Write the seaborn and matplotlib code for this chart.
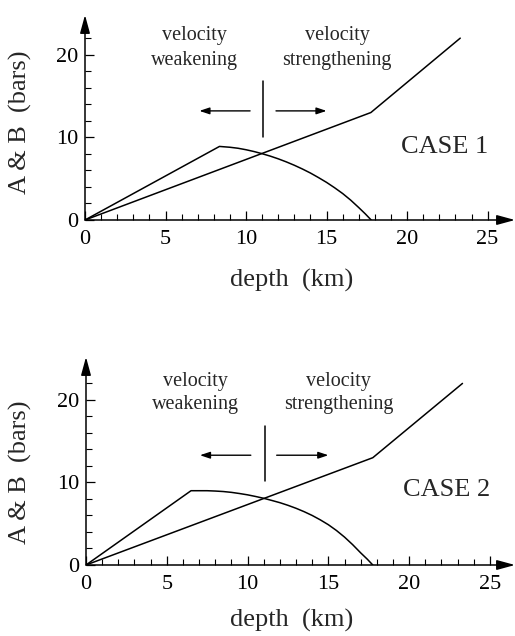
import matplotlib
matplotlib.use("Agg")
import matplotlib.pyplot as plt
import seaborn as sns
import pandas as pd
import numpy as np

# ---- data ----
b_depth = [0.0, 17.75, 23.3]
b_vals = [0.0, 13.0, 22.0]

a1_depth = [0.0, 8.35, 9.0, 9.5, 10.0, 10.5, 11.0, 11.5, 12.0, 12.5, 13.0, 13.5,
            14.0, 14.5, 15.0, 15.5, 16.0, 16.5, 17.0, 17.4, 17.77]
a1_vals = [0.0, 8.9, 8.8, 8.68, 8.5, 8.28, 8.02, 7.73, 7.4, 7.03, 6.62, 6.17,
           5.68, 5.13, 4.55, 3.9, 3.2, 2.4, 1.5, 0.75, 0.0]

a2_depth = [0.0, 6.5, 7.0, 7.5, 8.0, 8.5, 9.0, 9.5, 10.0, 10.5, 11.0, 11.5, 12.0,
            12.5, 13.0, 13.5, 14.0, 14.5, 15.0, 15.5, 16.0, 16.5, 17.0, 17.4, 17.75]
a2_vals = [0.0, 9.0, 9.0, 9.0, 8.96, 8.9, 8.8, 8.66, 8.5, 8.3, 8.08, 7.82, 7.55,
           7.23, 6.87, 6.46, 6.0, 5.47, 4.88, 4.18, 3.38, 2.47, 1.47, 0.72, 0.0]

x_major = [0, 5, 10, 15, 20, 25]
y_major = [0, 10, 20]
case_labels = ["CASE 1", "CASE 2"]

sns.set_style("white")
plt.rcParams['font.family'] = ['Liberation Serif', 'DejaVu Serif']

W, H = 515, 636
fig = plt.figure(figsize=(W / 100, H / 100), dpi=100)

boxes = [
    dict(left=85, y0=220, top=15, xmax=26.7, ymax=24.8,
         ylab_y=122, xlab_y=280),
    dict(left=86, y0=565, top=357, xmax=26.55, ymax=25.2,
         ylab_y=472, xlab_y=620),
]
a_data = [(a1_depth, a1_vals), (a2_depth, a2_vals)]
ann = [
    dict(vx=11.07, vy0=10.0, vy1=16.8, ay=13.2, l0=10.25, l1=7.1, r0=11.86, r1=15.0,
         ty1=22.3, ty2=19.3, case_y=8.8),
    dict(vx=11.08, vy0=10.2, vy1=16.8, ay=13.3, l0=10.2, l1=7.05, r0=11.8, r1=15.0,
         ty1=22.2, ty2=19.4, case_y=9.1),
]

for i, bx in enumerate(boxes):
    left = bx['left'] / W
    bottom = (H - bx['y0']) / H
    width = (W - bx['left']) / W
    height = (bx['y0'] - bx['top']) / H
    ax = fig.add_axes([left, bottom, width, height])
    ax.set_facecolor('none')

    df_b = pd.DataFrame({'depth': b_depth, 'val': b_vals})
    ad, av = a_data[i]
    df_a = pd.DataFrame({'depth': ad, 'val': av})
    sns.lineplot(data=df_b, x='depth', y='val', ax=ax, color='black', lw=1.1,
                 estimator=None, sort=False)
    sns.lineplot(data=df_a, x='depth', y='val', ax=ax, color='black', lw=1.1,
                 estimator=None, sort=False)
    for ln in ax.lines:
        ln.set_solid_joinstyle('round')

    ax.set_xlim(0, bx['xmax'])
    ax.set_ylim(0, bx['ymax'])
    for s in ax.spines.values():
        s.set_visible(False)

    ax.set_xticks(x_major)
    ax.set_xticks(np.arange(0, 26, 1), minor=True)
    ax.set_yticks(y_major)
    ax.set_yticks(np.arange(0, 23, 2), minor=True)
    ax.tick_params(axis='both', which='major', direction='in', length=6.5, width=0.9,
                   labelsize=16, color='black', labelcolor='black')
    ax.tick_params(axis='both', which='minor', direction='in', length=4, width=0.8,
                   color='black')
    ax.tick_params(axis='x', which='major', pad=7)
    ax.tick_params(axis='y', which='major', pad=5)
    ax.tick_params(bottom=True, left=True, which='both')

    ax.annotate('', xy=(1, 0), xytext=(0, 0), xycoords='axes fraction',
                textcoords='axes fraction', annotation_clip=False,
                arrowprops=dict(arrowstyle='-|>,head_length=1.1,head_width=0.3',
                                color='black', lw=1.1, shrinkA=0, shrinkB=0))
    ax.annotate('', xy=(0, 1), xytext=(0, 0), xycoords='axes fraction',
                textcoords='axes fraction', annotation_clip=False,
                arrowprops=dict(arrowstyle='-|>,head_length=1.1,head_width=0.3',
                                color='black', lw=1.1, shrinkA=0, shrinkB=0))

    a = ann[i]
    ax.plot([a['vx'], a['vx']], [a['vy0'], a['vy1']], color='black', lw=1.1)
    for x0, x1 in [(a['l0'], a['l1']), (a['r0'], a['r1'])]:
        ax.annotate('', xy=(x1, a['ay']), xytext=(x0, a['ay']),
                    arrowprops=dict(arrowstyle='-|>,head_length=0.6,head_width=0.2',
                                    color='black', lw=1.0, shrinkA=0, shrinkB=0))
    ax.text(6.8, a['ty1'], 'velocity', ha='center', va='center', fontsize=14.5)
    ax.text(6.8, a['ty2'], 'weakening', ha='center', va='center', fontsize=14.5)
    ax.text(15.65, a['ty1'], 'velocity', ha='center', va='center', fontsize=14.5)
    ax.text(15.65, a['ty2'], 'strengthening', ha='center', va='center', fontsize=14.5)
    ax.text(22.3, a['case_y'], case_labels[i], ha='center', va='center', fontsize=19)

    ax.set_xlabel('')
    ax.set_ylabel('')
    fig.text(20 / W, 1 - bx['ylab_y'] / H, 'A & B  (bars)', rotation=90,
             ha='center', va='center', fontsize=19)
    fig.text(292 / W, 1 - bx['xlab_y'] / H, 'depth  (km)', ha='center', va='center',
             fontsize=19)

fig.savefig('out.png', dpi=100, facecolor='white')
